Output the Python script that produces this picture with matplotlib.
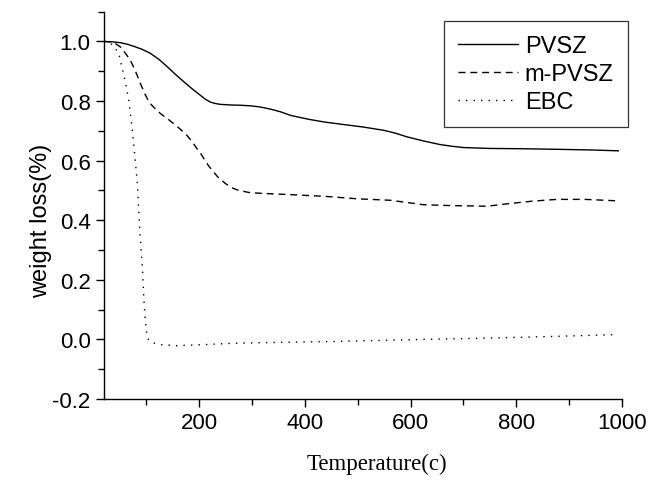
import matplotlib
matplotlib.use("Agg")
import matplotlib.pyplot as plt
from matplotlib.ticker import MultipleLocator, FormatStrFormatter

pvsz_x = [20, 35, 51, 64, 76, 92, 108, 124, 140, 155, 171, 187, 202, 212, 221, 230, 240, 258, 278, 298, 316, 335, 354, 373, 391, 410, 436, 470, 510, 549, 572, 593, 625, 656, 680, 700, 750, 813, 880, 940, 993]
pvsz_y = [1.0, 0.999, 0.996, 0.991, 0.984, 0.974, 0.960, 0.940, 0.915, 0.890, 0.865, 0.841, 0.820, 0.806, 0.797, 0.792, 0.789, 0.787, 0.786, 0.784, 0.780, 0.773, 0.764, 0.752, 0.745, 0.738, 0.730, 0.722, 0.713, 0.702, 0.692, 0.680, 0.666, 0.654, 0.648, 0.644, 0.641, 0.640, 0.638, 0.636, 0.633]

mpvsz_x = [20, 30, 39, 51, 60, 70, 80, 89, 97, 105, 116, 127, 140, 152, 165, 177, 188, 196, 202, 209, 217, 225, 235, 250, 262, 275, 295, 320, 373, 440, 499, 562, 625, 680, 719, 745, 782, 830, 877, 930, 993]
mpvsz_y = [1.0, 0.999, 0.996, 0.982, 0.962, 0.937, 0.899, 0.859, 0.826, 0.797, 0.776, 0.758, 0.741, 0.724, 0.705, 0.685, 0.661, 0.640, 0.627, 0.607, 0.585, 0.567, 0.546, 0.523, 0.509, 0.500, 0.493, 0.490, 0.486, 0.480, 0.472, 0.467, 0.452, 0.449, 0.448, 0.447, 0.455, 0.464, 0.470, 0.470, 0.465]

ebc_x = [20, 30, 39, 48, 57, 62, 67, 73, 78, 83, 88, 92.5, 95.5, 98.5, 101.7, 106, 114, 130, 158, 202, 265, 350, 454, 550, 650, 763, 870, 985]
ebc_y = [1.0, 0.997, 0.984, 0.960, 0.892, 0.850, 0.803, 0.713, 0.625, 0.528, 0.360, 0.248, 0.136, 0.058, 0.007, -0.006, -0.012, -0.018, -0.021, -0.018, -0.013, -0.010, -0.007, -0.003, 0.001, 0.005, 0.010, 0.016]

series_names = ["PVSZ", "m-PVSZ", "EBC"]

fig = plt.figure(figsize=(6.62, 4.81), dpi=100)
ax = fig.add_axes([0.157, 0.1684, 0.7826, 0.8052])

lw = 1.0
ax.plot(pvsz_x, pvsz_y, color="black", lw=lw, ls="-", label=series_names[0])
ax.plot(mpvsz_x, mpvsz_y, color="black", lw=lw, ls=(0, (5, 3.5)), label=series_names[1])
ax.plot(ebc_x, ebc_y, color="black", lw=lw, ls=(0, (1, 4.4)), label=series_names[2])

ax.set_xlim(20, 1000)
ax.set_ylim(-0.2, 1.1)
ax.spines["top"].set_visible(False)
ax.spines["right"].set_visible(False)
for s in ("left", "bottom"):
    ax.spines[s].set_linewidth(1.0)

ax.xaxis.set_major_locator(MultipleLocator(200))
ax.xaxis.set_minor_locator(MultipleLocator(100))
ax.yaxis.set_major_locator(MultipleLocator(0.2))
ax.yaxis.set_minor_locator(MultipleLocator(0.1))
ax.yaxis.set_major_formatter(FormatStrFormatter("%.1f"))
ax.tick_params(which="major", direction="out", length=6, width=1.0, labelsize=16, pad=3.5)
ax.tick_params(which="minor", direction="out", length=4, width=1.0)
for lab in ax.get_xticklabels() + ax.get_yticklabels():
    lab.set_fontfamily("Liberation Sans")

ax.set_ylabel("weight loss(%)", fontfamily="Liberation Sans", fontsize=17)
ax.yaxis.set_label_coords(-0.10, 0.463)
ax.set_xlabel("Temperature(c)", fontfamily="Liberation Serif", fontsize=16.5)
ax.xaxis.set_label_coords(0.526, -0.14)

leg = ax.legend(loc="upper left", bbox_to_anchor=(444 / 662, 1 - 22 / 481), bbox_transform=fig.transFigure,
                prop={"family": "Liberation Sans", "size": 17},
                frameon=True, fancybox=False, edgecolor="black", handlelength=2.55, handletextpad=0.27,
                labelspacing=0.25, borderpad=0.6, borderaxespad=0)
leg.get_frame().set_linewidth(0.9)

fig.savefig("out.png", dpi=100)
